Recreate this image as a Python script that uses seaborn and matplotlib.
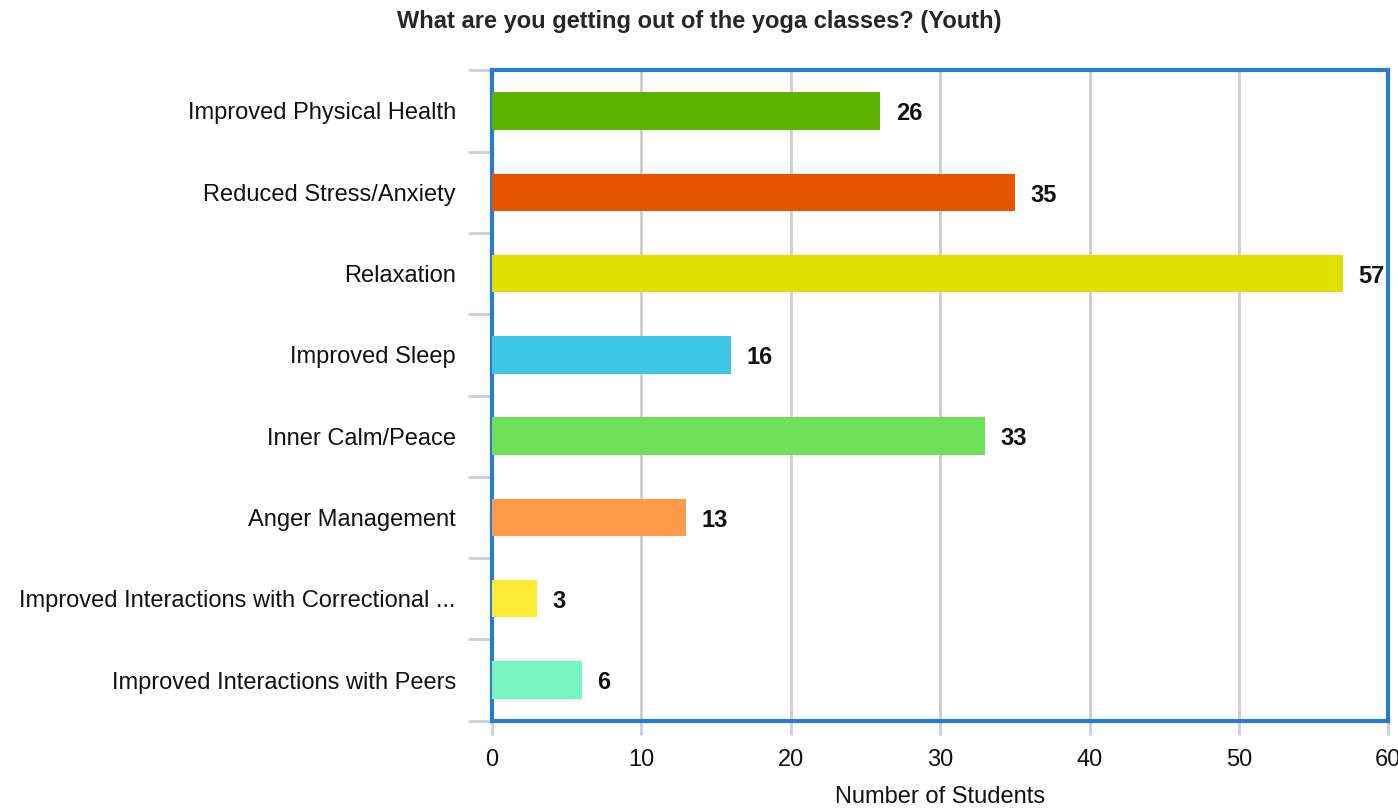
import pandas as pd
import seaborn as sns
import matplotlib.pyplot as plt
from matplotlib.ticker import FixedLocator

categories = [
    "Improved Physical Health",
    "Reduced Stress/Anxiety",
    "Relaxation",
    "Improved Sleep",
    "Inner Calm/Peace",
    "Anger Management",
    "Improved Interactions with Correctional ...",
    "Improved Interactions with Peers",
]
students = [26, 35, 57, 16, 33, 13, 3, 6]
colors = ["#5db300", "#e65400", "#dfe000", "#3ec6e6",
          "#6ee05a", "#ff9a4a", "#ffea33", "#78f5c0"]


def set_config():
    sns.set_style("white")
    plt.rcParams['font.family'] = ["Liberation Sans", "DejaVu Sans"]


def draw():
    df = pd.DataFrame({"category": categories, "count": students})

    fig = plt.figure(figsize=(13.98, 8.08), dpi=100)
    ax = fig.add_axes([0.352, 0.108, 0.641, 0.805])

    sns.barplot(data=df, x="count", y="category", hue="category",
                palette=colors, saturation=1, width=0.46, linewidth=0,
                legend=False, ax=ax, zorder=3)

    # 막대 끝 값 표시
    for i, v in enumerate(students):
        ax.annotate(str(v), (v, i), xytext=(11, -2), textcoords="offset points",
                    va="center", ha="left", fontsize=17, fontweight="bold",
                    color="#111111", zorder=4)

    ax.set_xlim(0, 60)
    ax.set_ylim(len(categories) - 0.5, -0.5)
    ax.set_xticks(range(0, 61, 10))
    ax.xaxis.grid(True, color="#cccccc", linewidth=2, zorder=0)
    ax.tick_params(axis="x", bottom=True, length=10, width=2, color="#c8d0e0",
                   labelsize=17, pad=10, labelcolor="#111111")

    # y 눈금은 카테고리 경계에
    ax.tick_params(axis="y", which="major", left=False, length=0, labelsize=17,
                   pad=26, labelcolor="#111111")
    ax.yaxis.set_minor_locator(FixedLocator([i - 0.5 for i in range(len(categories) + 1)]))
    ax.tick_params(axis="y", which="minor", left=True, length=17, width=2,
                   color="#c8d0e0")

    for s in ax.spines.values():
        s.set_color("#2a7ad0")
        s.set_linewidth(3)
        s.set_visible(True)

    ax.set_ylabel("")
    ax.set_xlabel("Number of Students", fontsize=17, color="#111111", labelpad=11)
    fig.suptitle("What are you getting out of the yoga classes? (Youth)",
                 x=0.5, y=0.988, fontsize=17, fontweight="bold")

    fig.savefig("out.png", dpi=100)


def main():
    set_config()
    draw()


if __name__ == "__main__":
    main()
